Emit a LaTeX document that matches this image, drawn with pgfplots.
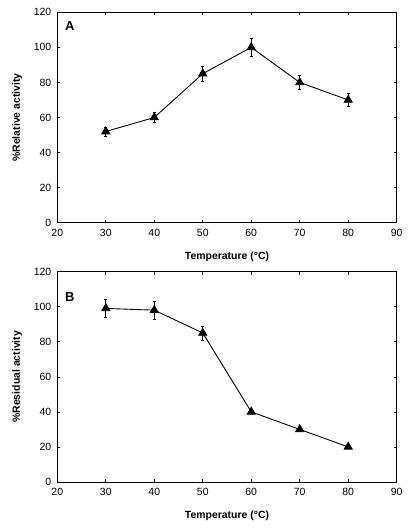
\documentclass[border=0pt]{standalone}
\usepackage{fontspec}
\setmainfont{Liberation Sans}
\usepackage{pgfplots}
\pgfplotsset{compat=1.18}
\begin{document}
\begin{tikzpicture}
\useasboundingbox (0bp,0bp) rectangle (414bp,530bp);
\pgfplotsset{
  myax/.style={
    scale only axis, width=339.4bp, height=210.4bp,
    xmin=20, xmax=90, ymin=0, ymax=120,
    xtick={20,30,...,90}, ytick={0,20,...,120},
    tick align=inside, major tick length=3bp,
    tick style={black, line width=0.6pt},
    axis line style={line width=0.8pt},
    /pgf/number format/assume math mode=true,
    ticklabel style={font=\fontsize{10.5}{12}\selectfont},
    xticklabel style={yshift=-2.5bp},
    yticklabel style={xshift=-2.5bp},
    label style={font=\bfseries\fontsize{10.5}{12}\selectfont},
    xlabel style={at={(axis description cs:0.5,-0.162)}, anchor=center},
    ylabel style={at={(axis description cs:-0.118,0.5)}, anchor=center},
    xlabel={Temperature (°C)},
    clip=false,
  },
  myplot/.style={black, line width=0.9pt, mark=triangle*, mark size=4.6pt,
    mark options={solid, fill=black},
    error bars/.cd, y dir=both, y explicit,
    error bar style={line width=0.8pt},
    error mark options={rotate=90, mark size=1.7pt, line width=0.8pt}},
}
\begin{axis}[myax, at={(57.3bp,307.3bp)}, anchor=south west, ylabel={\%Relative activity}]
\addplot+[myplot] coordinates {
 (30,52) +- (0,2.5)
 (40,60) +- (0,3)
 (50,85) +- (0,4.2)
 (60,100) +- (0,5)
 (70,80) +- (0,4)
 (80,70) +- (0,3.5)
};
\node[font=\bfseries\fontsize{13}{15}\selectfont] at (axis cs:22.6,112.2) {A};
\end{axis}
\begin{axis}[myax, at={(57.3bp,48bp)}, anchor=south west, ylabel={\%Residual activity}]
\addplot+[myplot] coordinates {
 (30,99) +- (0,5)
 (40,98) +- (0,5)
 (50,85) +- (0,4)
 (60,40) +- (0,1.5)
 (70,30) +- (0,1)
 (80,20) +- (0,1)
};
\node[font=\bfseries\fontsize{13}{15}\selectfont] at (axis cs:22.6,105.4) {B};
\end{axis}
\end{tikzpicture}
\end{document}
